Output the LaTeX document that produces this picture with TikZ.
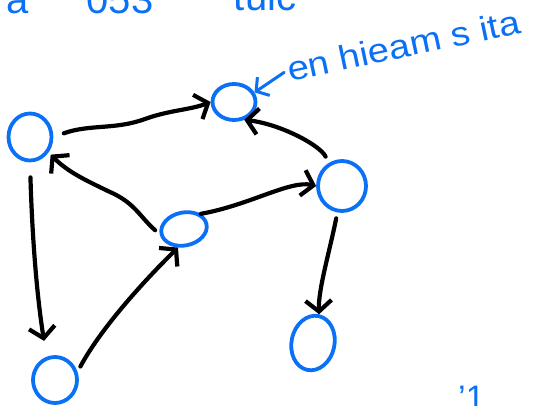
\documentclass[tikz,border=0pt]{standalone}
\usepackage{fontspec}
\setmainfont{Liberation Sans}
\usetikzlibrary{shapes.geometric,arrows.meta}
\definecolor{inkblue}{RGB}{10,112,245}
\begin{document}
\begin{tikzpicture}[x=1pt,y=-1pt,
  vtx/.style={ellipse, draw=inkblue, line width=3.8pt, inner sep=0pt},
  edge/.style={draw=black, line width=4.2pt, line cap=round, line join=round,
    -{Straight Barb[length=11pt,width=26pt]}},
  bluearrow/.style={draw=inkblue, line width=3pt, line cap=round, line join=round,
    -{Straight Barb[length=9pt,width=22pt]}},
  ink/.style={text=inkblue, inner sep=0pt}]
\useasboundingbox (0,0) rectangle (543,406);
\clip (0,0) rectangle (543,406);
% nodes
\node[vtx, minimum width=43pt, minimum height=47pt] (A) at (30,137) {};
\node[vtx, minimum width=43pt, minimum height=36pt] (B) at (234,102) {};
\node[vtx, minimum width=48pt, minimum height=50pt] (C) at (342,186) {};
\node[vtx, minimum width=46pt, minimum height=33pt, rotate=12] (D) at (184,229) {};
\node[vtx, minimum width=44pt, minimum height=46pt] (E) at (55,380) {};
\node[vtx, minimum width=43pt, minimum height=55pt, rotate=-12] (F) at (313,343) {};
% texts
\node[ink, anchor=base, font=\fontsize{40}{42}\selectfont] (t1) at (18,14) {a};
\node[ink, anchor=base, font=\fontsize{40}{42}\selectfont] (t2) at (120,14) {053};
\node[ink, anchor=base, font=\fontsize{40}{42}\selectfont] (t3) at (265,11) {tuic};
\node[ink, anchor=base west, rotate=12, xscale=1.12, font=\fontsize{34}{36}\selectfont] (lbl) at (290,82) {en hieam s ita};
\node[ink, anchor=base west, font=\fontsize{34}{36}\selectfont] (t4) at (458,409) {'1};
% connectors
\draw[edge, shorten <=11pt] (A.east) .. controls (90,124) and (115,130) .. (145,119)
   .. controls (170,110) and (190,110) .. (B.west);
\draw[edge, shorten <=7pt] (C.120) .. controls (320,145) and (280,124) .. (B.-60);
\draw[edge, shorten <=6pt, shorten >=3pt] (D.west) .. controls (140,217) and (135,203) .. (110,192)
   .. controls (85,180) and (68,172) .. (A.-40);
\draw[edge, shorten <=15pt, shorten >=16pt] (A.south) .. controls (32,230) and (36,290) .. (E.110);
\draw[edge, shorten <=6pt] (E.20) .. controls (100,330) and (140,285) .. (D.-120);
\draw[edge] (D.30) .. controls (250,205) and (290,180) .. (C.west);
\draw[edge, shorten <=6pt] (C.-100) .. controls (330,250) and (318,290) .. (F.north);
\draw[bluearrow, shorten <=4pt] (lbl.west) -- (B.25);
\end{tikzpicture}
\end{document}
